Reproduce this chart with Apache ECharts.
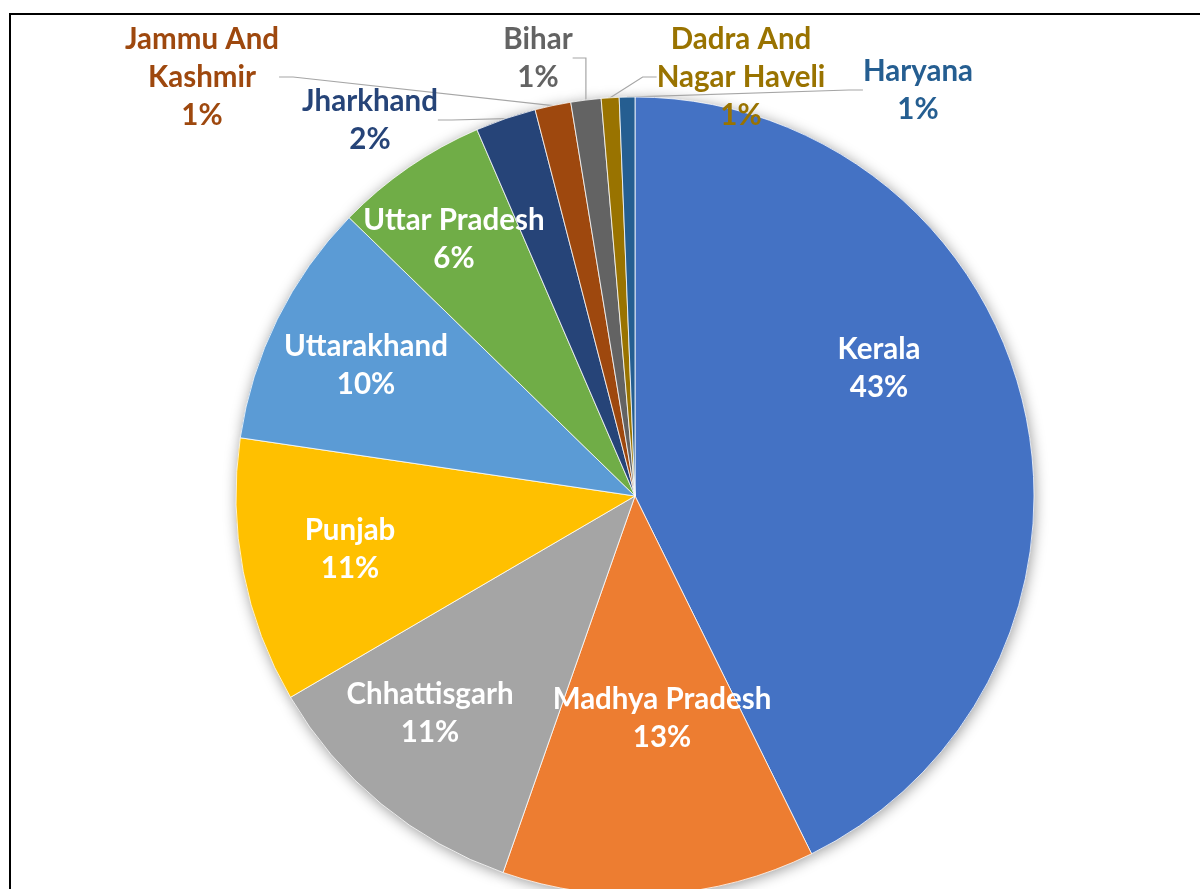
<!DOCTYPE html>
<html>
<head>
<meta charset="utf-8">
<script src="https://cdn.jsdelivr.net/npm/echarts@6/dist/echarts.min.js"></script>
<style>
  html, body { margin: 0; padding: 0; background: #fff; }
  #chart { width: 1200px; height: 889px; }
</style>
</head>
<body>
<div id="chart"></div>
<script>
// slices, clockwise from 12 o'clock
var states = ['Kerala', 'Madhya Pradesh', 'Chhattisgarh', 'Punjab', 'Uttarakhand', 'Uttar Pradesh',
  'Jharkhand', 'Jammu And Kashmir', 'Bihar', 'Dadra And Nagar Haveli', 'Haryana'];
var shares = [42.63, 12.64, 11.2, 10.73, 9.94, 6.22, 2.45, 1.45, 1.22, 0.72, 0.63];
var colors = ['#4472C4', '#ED7D31', '#A5A5A5', '#FFC000', '#5B9BD5', '#70AD47',
  '#264478', '#9E480E', '#636363', '#997300', '#255E91'];
// which labels sit outside the pie (with a leader line)
var outside = [false, false, false, false, false, false, true, true, true, true, true];
// label centres, in px
var labelPos = [[879, 368], [662, 718], [430, 713], [350, 549], [366, 365], [454, 239],
  [370, 120], [202, 77], [538, 58], [741, 77], [918, 90]];

var font = 'Lato, "Open Sans", sans-serif';

var data = states.map(function (s, i) {
  return {
    name: s,
    value: shares[i],
    itemStyle: { color: colors[i] },
    label: {
      position: outside[i] ? 'outside' : 'inside',
      color: outside[i] ? colors[i] : '#fff'
    },
    labelLine: { show: outside[i] }
  };
});

var shadowData = states.map(function (s, i) {
  return { name: s, value: shares[i], itemStyle: { color: colors[i] } };
});

var chart = echarts.init(document.getElementById('chart'));
chart.setOption({
  animation: false,
  graphic: [{
    type: 'rect',
    shape: { x: 10, y: 14, width: 1400, height: 1000 },
    style: { fill: 'none', stroke: '#000', lineWidth: 2 },
    z: 10
  }],
  series: [{
    type: 'pie',
    silent: true,
    z: 1,
    center: [635, 496],
    radius: 399,
    startAngle: 90,
    data: shadowData,
    label: { show: false },
    labelLine: { show: false },
    itemStyle: {
      shadowBlur: 14,
      shadowColor: 'rgba(0,0,0,0.4)',
      shadowOffsetX: 1,
      shadowOffsetY: 2
    }
  }, {
    type: 'pie',
    z: 2,
    center: [635, 496],
    radius: 399,
    startAngle: 90,
    avoidLabelOverlap: false,
    data: data,
    itemStyle: { borderColor: '#fff', borderWidth: 0.8 },
    label: {
      fontFamily: font,
      fontWeight: 'bold',
      fontSize: 29.5,
      lineHeight: 38,
      align: 'center',
      formatter: function (p) {
        return p.name.replace(' And ', ' And\n') + '\n' + Math.round(p.percent) + '%';
      }
    },
    labelLine: {
      length: 10,
      length2: 14,
      lineStyle: { color: '#A6A6A6', width: 1.2 }
    },
    labelLayout: function (p) {
      var pos = labelPos[p.dataIndex];
      return { x: pos[0], y: pos[1], align: 'center', verticalAlign: 'middle' };
    }
  }]
});
</script>
</body>
</html>
